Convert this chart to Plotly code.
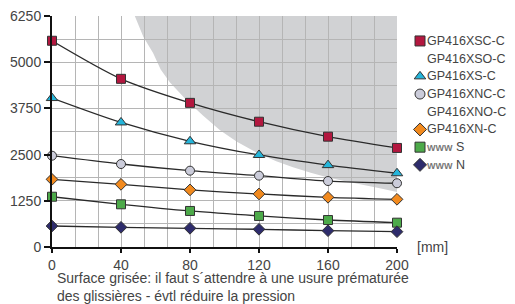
import plotly.graph_objects as go

x_stroke = [0, 40, 80, 120, 160, 200]
xsc = [5580, 4550, 3900, 3390, 2985, 2680]
xs = [4030, 3370, 2860, 2490, 2215, 1995]
xnc = [2470, 2245, 2065, 1930, 1785, 1725]
xn = [1830, 1695, 1545, 1435, 1345, 1290]
s_spring = [1360, 1155, 975, 840, 730, 658]
n_spring = [568, 533, 506, 479, 441, 414]

# grey wear zone boundary
zone_x = [48, 53, 58.6, 63, 68.4, 78.3, 87.5, 97.4, 107.2, 118.8, 130, 139.7, 150, 159.4, 170, 178.6, 190, 200]
zone_y = [6250, 5680, 5250, 4800, 4450, 3960, 3560, 3160, 2850, 2550, 2320, 2160, 2010, 1890, 1780, 1700, 1590, 1490]

y_ticks = [0, 1250, 2500, 3750, 5000, 6250]
x_ticks = [0, 40, 80, 120, 160, 200]

series = [
    ("GP416XSC-C", xsc, "square", "#b3173f"),
    ("GP416XS-C", xs, "triangle-up", "#25b5da"),
    ("GP416XNC-C", xnc, "circle", "#cbccda"),
    ("GP416XN-C", xn, "diamond", "#f28a1e"),
    ("S", s_spring, "square", "#4daa4a"),
    ("N", n_spring, "diamond", "#2e2c6c"),
]

spring = "<span style='font-size:9px;color:#777'><b>WWW</b></span> "
legend_labels = ["GP416XSC-C", "GP416XSO-C", "GP416XS-C", "GP416XNC-C",
                 "GP416XNO-C", "GP416XN-C", spring + "S", spring + "N"]
legend_symbols = ["square", None, "triangle-up", "circle", None, "diamond", "square", "diamond"]
legend_colors = ["#b3173f", None, "#25b5da", "#cbccda", None, "#f28a1e", "#4daa4a", "#2e2c6c"]

FONT = "Liberation Sans, Arial, Helvetica"
TXT = "#444444"

fig = go.Figure()

for name, vals, sym, col in series:
    fig.add_trace(go.Scatter(
        x=x_stroke, y=vals, mode="lines+markers", showlegend=False, name=name,
        line=dict(color="#2a2a2a", width=1.3, shape="spline", smoothing=0.8),
        marker=dict(symbol=sym, size=9 if sym != "triangle-up" else 10, color=col,
                    line=dict(color="#333333", width=1)),
        cliponaxis=False,
    ))

# custom legend on an overlay axis
for i, (lab, sym, col) in enumerate(zip(legend_labels, legend_symbols, legend_colors)):
    if sym is not None:
        fig.add_trace(go.Scatter(
            x=[20.75], y=[i], xaxis="x2", yaxis="y2", mode="markers", showlegend=False,
            marker=dict(symbol=sym, size=10, color=col, line=dict(color="#333333", width=1)),
            hoverinfo="skip", cliponaxis=False,
        ))
    fig.add_annotation(x=25.5, y=i, xref="x2", yref="y2", text=lab, showarrow=False,
                       xanchor="left", yanchor="middle",
                       font=dict(family=FONT, size=12.5, color=TXT))

path = "M " + " L ".join(f"{a},{b}" for a, b in zip(zone_x, zone_y)) + " L 200,6250 Z"
fig.add_shape(type="path", path=path, xref="x", yref="y", layer="below",
              fillcolor="#d1d2d4", line=dict(width=0))

main_dom = 345 / 463
fig.update_layout(
    xaxis=dict(
        domain=[0, main_dom], range=[0, 200], tickvals=x_ticks,
        ticktext=[str(v) for v in x_ticks],
        showgrid=True, gridcolor="#b5b5b5", gridwidth=1.4,
        minor=dict(dtick=40/3, tick0=0, showgrid=True, gridcolor="#b5b5b5", gridwidth=1.4),
        showline=True, linecolor="#111", linewidth=2, ticks="outside", ticklen=4,
        tickcolor="#111", tickwidth=1.5, zeroline=False, automargin=False,
        ticklabeloverflow="allow",
        tickfont=dict(family=FONT, size=14, color=TXT),
    ),
    yaxis=dict(
        range=[0, 6250], tickvals=y_ticks, ticktext=[str(v) for v in y_ticks],
        showgrid=True, gridcolor="#b5b5b5", gridwidth=1.4,
        minor=dict(dtick=625, tick0=0, showgrid=True, gridcolor="#b5b5b5", gridwidth=1.4),
        showline=True, linecolor="#111", linewidth=2, ticks="outside", ticklen=6,
        tickcolor="#111", tickwidth=1.5, zeroline=False, automargin=False,
        ticklabeloverflow="allow",
        tickfont=dict(family=FONT, size=14, color=TXT),
    ),
    xaxis2=dict(domain=[0.75, 1], range=[0, 115.75], visible=False, fixedrange=True),
    yaxis2=dict(domain=[0, 1], range=[11.64, -1.41], visible=False, fixedrange=True,
                anchor="x2"),
    width=507, height=296,
    margin=dict(l=44, r=0, t=8, b=57, autoexpand=False),
    plot_bgcolor="white", paper_bgcolor="white",
    showlegend=False,
)

fig.add_annotation(x=(415 - 52) / 463, y=0, xref="paper", yref="paper", text="[mm]",
                   showarrow=False, xanchor="left", yanchor="middle",
                   font=dict(family=FONT, size=14, color=TXT))
fig.add_annotation(
    x=(55 - 52) / 463, y=-(286.5 - 247) / 231, xref="paper", yref="paper",
    text="Surface grisée: il faut s´attendre à une usure prématurée<br>des glissières - évtl réduire la pression",
    showarrow=False, xanchor="left", yanchor="middle", align="left",
    font=dict(family=FONT, size=14, color=TXT),
)

fig.write_html("out.html")
